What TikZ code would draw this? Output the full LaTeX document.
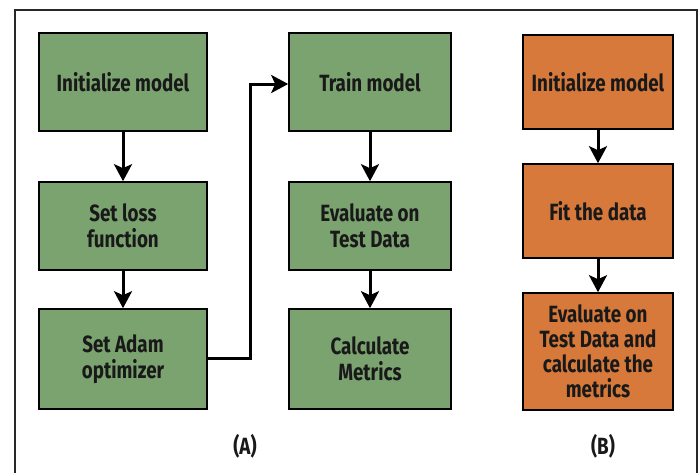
\documentclass[tikz,border=0pt]{standalone}
\usepackage{fontspec}
\setmainfont{Fira Sans}[FakeStretch=0.8]
\usetikzlibrary{arrows.meta}
\definecolor{boxgreen}{RGB}{123,163,112}
\definecolor{boxorange}{RGB}{214,121,58}
\definecolor{framegray}{RGB}{40,40,40}
\definecolor{txt}{RGB}{25,25,25}
\tikzset{
  gbox/.style={draw=black, line width=1.6pt, fill=boxgreen, align=center, text=txt, font=\fontsize{23.5}{26}\selectfont\bfseries, inner sep=0pt},
  obox/.style={draw=black, line width=1.6pt, fill=boxorange, align=center, text=txt, font=\fontsize{23.5}{25}\selectfont\bfseries, inner sep=0pt},
  flow/.style={line width=3pt, -{Stealth[width=18pt,length=17pt,inset=4pt]}},
  lbl/.style={font=\fontsize{23.5}{24}\selectfont\bfseries, text=txt}
}
\begin{document}
\begin{tikzpicture}[x=1pt,y=-1pt]
\useasboundingbox (0,0) rectangle (699,472);
\fill[white] (0,0) rectangle (699,472);
\draw[framegray, line width=1.6pt] (15,480) -- (15,10) -- (697,10) -- (697,480);
% column A
\node[gbox, minimum width=168pt, minimum height=98pt] (init) at (123,82) {Initialize model};
\node[gbox, minimum width=168pt, minimum height=88pt] (loss) at (123,226) {Set loss\\function};
\node[gbox, minimum width=168pt, minimum height=100pt] (adam) at (123,359) {Set Adam\\optimizer};
\node[gbox, minimum width=162pt, minimum height=98pt] (train) at (370,82) {Train model};
\node[gbox, minimum width=162pt, minimum height=88pt] (eval) at (370,226) {Evaluate on\\Test Data};
\node[gbox, minimum width=162pt, minimum height=100pt] (calc) at (370,359) {Calculate\\Metrics};
% column B
\node[obox, minimum width=150pt, minimum height=94pt] (binit) at (598,82) {Initialize model};
\node[obox, minimum width=150pt, minimum height=94pt] (bfit) at (598,211) {Fit the data};
\node[obox, minimum width=150pt, minimum height=117pt] (beval) at (598,351.5) {Evaluate on\\Test Data and\\calculate the\\metrics};
% labels
\node[lbl] (la) at (245,446) {(A)};
\node[lbl] (lb) at (603,446) {(B)};
% connectors
\coordinate (c1) at (250,358);
\coordinate (c2) at (250,84);
\draw[flow] (init) -- (loss);
\draw[flow] (loss) -- (adam);
\draw[flow] (adam.east |- c1) -- (c1) -- (c2) -- (train.west |- c2);
\draw[flow] (train) -- (eval);
\draw[flow] (eval) -- (calc);
\draw[flow] (binit) -- (bfit);
\draw[flow] (bfit) -- (beval);
\end{tikzpicture}
\end{document}
